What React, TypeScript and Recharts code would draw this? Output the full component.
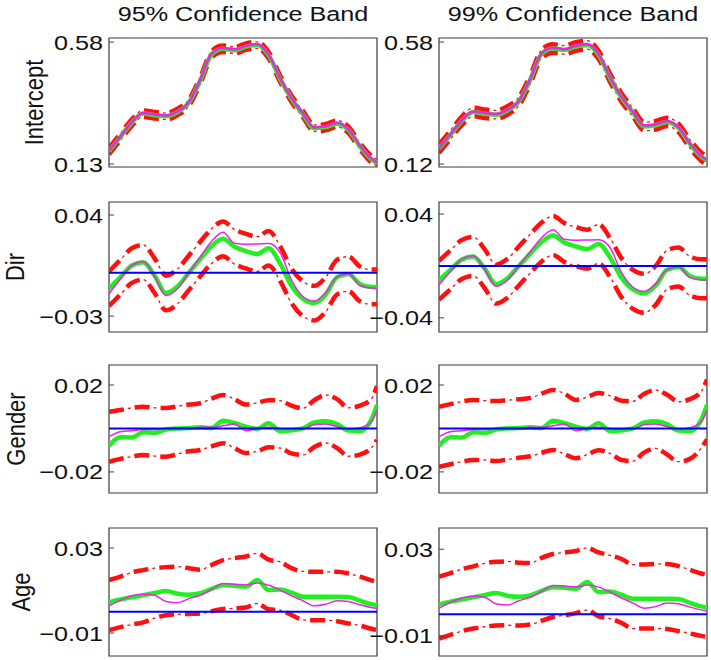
import { LineChart, Line, XAxis, YAxis, ReferenceArea, ReferenceLine } from "recharts";

const FONT = "'Liberation Sans', Arial, Helvetica, sans-serif";
const STRETCH = 1.2;

const xs = [8, 12, 16, 20, 24, 28, 32, 36, 40, 44, 48, 52, 56, 60, 64, 68, 72, 76, 80, 84, 88, 92, 96, 100, 102];
const xTicks = [20, 40, 60, 80, 100];

const bandTitles = ["95% Confidence Band", "99% Confidence Band"];

// Intercept
const interceptEst = [0.178, 0.23, 0.283, 0.316, 0.31, 0.306, 0.322, 0.356, 0.438, 0.535, 0.555, 0.55, 0.563, 0.569, 0.531, 0.445, 0.371, 0.315, 0.262, 0.266, 0.279, 0.256, 0.196, 0.148, 0.134];
const interceptTrue = [0.18, 0.232, 0.285, 0.318, 0.313, 0.309, 0.324, 0.358, 0.441, 0.538, 0.558, 0.553, 0.566, 0.572, 0.534, 0.448, 0.373, 0.317, 0.265, 0.269, 0.282, 0.258, 0.198, 0.15, 0.136];
const interceptUp95 = [0.19, 0.242, 0.295, 0.328, 0.322, 0.318, 0.334, 0.368, 0.45, 0.547, 0.567, 0.562, 0.575, 0.581, 0.543, 0.457, 0.383, 0.327, 0.274, 0.278, 0.291, 0.268, 0.208, 0.16, 0.146];
const interceptLo95 = [0.166, 0.218, 0.271, 0.304, 0.298, 0.294, 0.31, 0.344, 0.426, 0.523, 0.543, 0.538, 0.551, 0.557, 0.519, 0.433, 0.359, 0.303, 0.25, 0.254, 0.267, 0.244, 0.184, 0.136, 0.122];
const interceptUp99 = [0.194, 0.246, 0.299, 0.332, 0.326, 0.322, 0.338, 0.372, 0.454, 0.551, 0.571, 0.566, 0.579, 0.585, 0.547, 0.461, 0.387, 0.331, 0.278, 0.282, 0.295, 0.272, 0.212, 0.164, 0.15];
const interceptLo99 = [0.162, 0.214, 0.267, 0.3, 0.294, 0.29, 0.306, 0.34, 0.422, 0.519, 0.539, 0.534, 0.547, 0.553, 0.515, 0.429, 0.355, 0.299, 0.246, 0.25, 0.263, 0.24, 0.18, 0.132, 0.118];

// Dir
const dirEst = [-0.011, -0.003, 0.005, 0.0073, -0.002, -0.014, -0.0095, 0, 0.0095, 0.0185, 0.0235, 0.018, 0.015, 0.013, 0.017, 0.0065, -0.009, -0.018, -0.021, -0.015, -0.003, -0.0008, -0.0077, -0.0098, -0.0098];
const dirTrue = [-0.0146, -0.0043, 0.0052, 0.0078, -0.0025, -0.0157, -0.011, 0, 0.011, 0.0218, 0.028, 0.0205, 0.0198, 0.02, 0.0202, 0.014, -0.005, -0.0164, -0.0196, -0.0138, -0.0028, -0.0006, -0.0088, -0.0106, -0.0108];
const dirUp95 = [0.001, 0.009, 0.017, 0.0193, 0.01, -0.002, 0.0025, 0.012, 0.0215, 0.0305, 0.0355, 0.03, 0.027, 0.025, 0.029, 0.0185, 0.003, -0.006, -0.009, -0.003, 0.009, 0.0112, 0.0043, 0.0022, 0.0022];
const dirLo95 = [-0.023, -0.015, -0.007, -0.0047, -0.014, -0.026, -0.0215, -0.012, -0.0025, 0.0065, 0.0115, 0.006, 0.003, 0.001, 0.005, -0.0055, -0.021, -0.03, -0.033, -0.027, -0.015, -0.0128, -0.0197, -0.0218, -0.0218];
const dirUp99 = [0.004, 0.012, 0.02, 0.0223, 0.013, 0.001, 0.0055, 0.015, 0.0245, 0.0335, 0.0385, 0.033, 0.03, 0.028, 0.032, 0.0215, 0.006, -0.003, -0.006, 0, 0.012, 0.0142, 0.0073, 0.0052, 0.0052];
const dirLo99 = [-0.026, -0.018, -0.01, -0.0077, -0.017, -0.029, -0.0245, -0.015, -0.0055, 0.0035, 0.0085, 0.003, 0, -0.002, 0.002, -0.0085, -0.024, -0.033, -0.036, -0.03, -0.018, -0.0158, -0.0227, -0.0248, -0.0248];

// Gender
const genderEst = [-0.008, -0.004, -0.0042, -0.0018, -0.002, -0.0005, 0, 0.0002, 0.0005, 0.0002, 0.0035, 0.0025, 0.0008, -0.0002, 0.0024, -0.0012, -0.0008, 0, 0.0028, 0.0033, 0.002, -0.001, -0.0012, 0.004, 0.0108];
const genderTrue = [-0.0038, -0.0015, -0.001, -0.0005, -0.0005, 0, 0, 0, 0.0005, 0.0005, 0.0012, 0.0021, -0.001, 0, 0.0005, 0, -0.0004, -0.0004, 0.0018, 0.0021, 0.0008, -0.0004, 0.0003, 0.003, 0.0085];
const genderUp95 = [0.0077, 0.0085, 0.0095, 0.01, 0.0095, 0.0094, 0.0102, 0.011, 0.0116, 0.0138, 0.0154, 0.0135, 0.011, 0.0118, 0.013, 0.0128, 0.0105, 0.0093, 0.013, 0.0154, 0.0135, 0.0095, 0.0105, 0.0135, 0.0195];
const genderLo95 = [-0.0153, -0.014, -0.013, -0.0122, -0.0127, -0.013, -0.0118, -0.0105, -0.0099, -0.0082, -0.0068, -0.009, -0.0113, -0.0105, -0.0087, -0.009, -0.0115, -0.0122, -0.0085, -0.0067, -0.009, -0.0128, -0.012, -0.009, -0.0053];
const genderUp99 = [0.01, 0.0112, 0.0124, 0.0131, 0.0128, 0.0126, 0.013, 0.0134, 0.014, 0.016, 0.0177, 0.016, 0.0131, 0.0145, 0.0163, 0.015, 0.0128, 0.0125, 0.016, 0.0177, 0.0155, 0.0123, 0.0135, 0.017, 0.0225];
const genderLo99 = [-0.0176, -0.0165, -0.0153, -0.0145, -0.0145, -0.015, -0.0143, -0.0135, -0.0128, -0.0112, -0.0099, -0.0118, -0.0137, -0.012, -0.01, -0.0115, -0.0145, -0.015, -0.011, -0.0092, -0.012, -0.0153, -0.014, -0.009, -0.005];

// Age
const ageEst = [0.0045, 0.0058, 0.0068, 0.0078, 0.0088, 0.0098, 0.0085, 0.008, 0.0087, 0.0108, 0.0125, 0.0122, 0.0118, 0.0149, 0.0102, 0.0105, 0.009, 0.0071, 0.0071, 0.0071, 0.0071, 0.007, 0.0052, 0.0036, 0.0031];
const ageTrue = [0.0027, 0.0055, 0.0075, 0.0083, 0.0078, 0.0048, 0.0042, 0.0062, 0.0078, 0.0105, 0.0133, 0.013, 0.0126, 0.0135, 0.0125, 0.0102, 0.0075, 0.0052, 0.0028, 0.0035, 0.0052, 0.0048, 0.0033, 0.002, 0.0016];
const ageUp95 = [0.0149, 0.0165, 0.0185, 0.0196, 0.0205, 0.021, 0.0212, 0.0205, 0.0198, 0.022, 0.0243, 0.0252, 0.026, 0.0275, 0.0245, 0.0235, 0.0205, 0.019, 0.0188, 0.0188, 0.0188, 0.018, 0.0165, 0.0148, 0.014];
const ageLo95 = [-0.0086, -0.0072, -0.006, -0.005, -0.003, -0.0016, -0.0012, -0.001, -0.0008, 0.0003, 0.0013, 0.0016, 0.002, 0.0039, 0.0012, 0.0008, -0.0015, -0.0038, -0.004, -0.004, -0.0045, -0.0055, -0.0065, -0.008, -0.0086];
const ageUp99 = [0.0174, 0.019, 0.0208, 0.0221, 0.0235, 0.0242, 0.0244, 0.0238, 0.0236, 0.026, 0.0278, 0.0285, 0.0292, 0.0306, 0.0285, 0.0272, 0.0255, 0.0229, 0.023, 0.0232, 0.0232, 0.0222, 0.0205, 0.0188, 0.0182];
const ageLo99 = [-0.0113, -0.0095, -0.0078, -0.0066, -0.0058, -0.0052, -0.0051, -0.0052, -0.0048, -0.003, -0.0013, -0.0005, 0.0005, 0.0019, -0.001, -0.002, -0.004, -0.0066, -0.0066, -0.0066, -0.0068, -0.0078, -0.0089, -0.01, -0.0105];

// y axes per column: domain, tick values, tick labels
const interceptAxes = [
  { domain: [0.119, 0.595], ticks: [0.13, 0.58], labels: ["0.13", "0.58"] },
  { domain: [0.109, 0.595], ticks: [0.12, 0.58], labels: ["0.12", "0.58"] },
];
const dirAxes = [
  { domain: [-0.041, 0.049], ticks: [-0.03, 0.04], labels: ["\u22120.03", "0.04"] },
  { domain: [-0.0509, 0.0493], ticks: [-0.04, 0.04], labels: ["\u22120.04", "0.04"] },
];
const genderAxes = [
  { domain: [-0.0297, 0.0292], ticks: [-0.02, 0.02], labels: ["\u22120.02", "0.02"] },
  { domain: [-0.0297, 0.0292], ticks: [-0.02, 0.02], labels: ["\u22120.02", "0.02"] },
];
const ageAxes = [
  { domain: [-0.0208, 0.0394], ticks: [-0.01, 0.03], labels: ["\u22120.01", "0.03"] },
  { domain: [-0.0193, 0.0398], ticks: [-0.01, 0.03], labels: ["\u22120.01", "0.03"] },
];

const rows = [
  { label: "Intercept", est: interceptEst, truth: interceptTrue, bands: [[interceptUp95, interceptLo95], [interceptUp99, interceptLo99]], axes: interceptAxes, zero: false, xTicks: false, top: 38, height: 129, labelX: 43, trueWidth: 2.5 },
  { label: "Dir", est: dirEst, truth: dirTrue, bands: [[dirUp95, dirLo95], [dirUp99, dirLo99]], axes: dirAxes, zero: true, xTicks: false, top: 202, height: 130, labelX: 24, trueWidth: 1.5 },
  { label: "Gender", est: genderEst, truth: genderTrue, bands: [[genderUp95, genderLo95], [genderUp99, genderLo99]], axes: genderAxes, zero: true, xTicks: false, top: 365, height: 128, labelX: 25, trueWidth: 1.5 },
  { label: "Age", est: ageEst, truth: ageTrue, bands: [[ageUp95, ageLo95], [ageUp99, ageLo99]], axes: ageAxes, zero: true, xTicks: true, top: 528, height: 128, labelX: 30, trueWidth: 1.5 },
];

const colLefts = [109, 439];
const BOX_W = 268;
const AXIS_W = 80;
const PAD = 14;

function StretchTick(props: any) {
  const { x, y, payload, axis } = props;
  const text = payload.value === axis.ticks[0] ? axis.labels[0] : axis.labels[1];
  return (
    <text
      transform={`translate(${x},${y}) scale(${STRETCH},1)`}
      textAnchor="end"
      dy="0.36em"
      fontSize={21}
      fontFamily={FONT}
      fill="#111"
    >
      {text}
    </text>
  );
}

function Panel({ row, col }: { row: (typeof rows)[number]; col: number }) {
  const axis = row.axes[col];
  const [up, lo] = row.bands[col];
  const data = xs.map((x, i) => ({ x, est: row.est[i], truth: row.truth[i], up: up[i], lo: lo[i] }));
  const band = (key: string) => [
    <Line key={key + "-thick"} xAxisId="b" yAxisId="l" dataKey={key} type="monotone" stroke="#ff1010" strokeWidth={4.5} strokeDasharray="15 11" dot={false} activeDot={false} isAnimationActive={false} />,
    <Line key={key + "-thin"} xAxisId="b" yAxisId="l" dataKey={key} type="monotone" stroke="#ff1010" strokeWidth={1.3} strokeDasharray="0 19 3 4" dot={false} activeDot={false} isAnimationActive={false} />,
  ];
  return (
    <div style={{ position: "absolute", left: colLefts[col] - AXIS_W, top: row.top - 1 - PAD }}>
      <LineChart width={AXIS_W + BOX_W + 1} height={row.height + 2 + PAD * 2} data={data} margin={{ top: PAD, right: 0, bottom: PAD, left: 0 }}>
        <XAxis xAxisId="b" dataKey="x" type="number" domain={[8, 102]} allowDataOverflow orientation="bottom" height={1} ticks={row.xTicks ? xTicks : []} interval={0} tick={false} axisLine={false} tickSize={-5} stroke="#444" />
        <XAxis xAxisId="t" dataKey="x" type="number" domain={[8, 102]} allowDataOverflow orientation="top" height={1} ticks={row.xTicks ? xTicks : []} interval={0} tick={false} axisLine={false} tickSize={-5} stroke="#444" />
        <YAxis yAxisId="l" type="number" domain={axis.domain} allowDataOverflow ticks={axis.ticks} interval={0} width={AXIS_W} axisLine={false} tickSize={-5} tickMargin={11} stroke="#444" tick={<StretchTick axis={axis} />} />
        <YAxis yAxisId="r" orientation="right" type="number" domain={axis.domain} allowDataOverflow ticks={axis.ticks} interval={0} width={1} axisLine={false} tickSize={-5} stroke="#444" tick={false} />
        <ReferenceArea xAxisId="b" yAxisId="l" x1={8} x2={102} y1={axis.domain[0]} y2={axis.domain[1]} fill="none" fillOpacity={0} stroke="#3a3a3a" strokeWidth={1.2} />
        {band("up")}
        {band("lo")}
        <Line xAxisId="b" yAxisId="l" dataKey="est" type="monotone" stroke="#22ee22" strokeWidth={4.5} dot={false} activeDot={false} isAnimationActive={false} />
        <Line xAxisId="b" yAxisId="l" dataKey="truth" type="monotone" stroke="#ee22ee" strokeWidth={row.trueWidth} dot={false} activeDot={false} isAnimationActive={false} />
        {row.zero && <ReferenceLine xAxisId="b" yAxisId="l" y={0} stroke="#0000ff" strokeWidth={2} />}
      </LineChart>
    </div>
  );
}

export default function App() {
  return (
    <div style={{ position: "absolute", left: 0, top: 0, width: 711, height: 660, background: "#fff", fontFamily: FONT }}>
      <svg width={711} height={660} style={{ position: "absolute", left: 0, top: 0 }}>
        {bandTitles.map((t, c) => (
          <text key={t} transform={`translate(${colLefts[c] + BOX_W / 2},21) scale(${STRETCH},1)`} textAnchor="middle" fontSize={21} fontFamily={FONT} fill="#111">
            {t}
          </text>
        ))}
        {rows.map((r) => (
          <text key={r.label} transform={`translate(${r.labelX},${r.top + r.height / 2}) scale(${STRETCH},1) rotate(-90)`} textAnchor="middle" fontSize={22} fontFamily={FONT} fill="#111">
            {r.label}
          </text>
        ))}
      </svg>
      {rows.map((r) => [0, 1].map((c) => <Panel key={r.label + c} row={r} col={c} />))}
    </div>
  );
}
